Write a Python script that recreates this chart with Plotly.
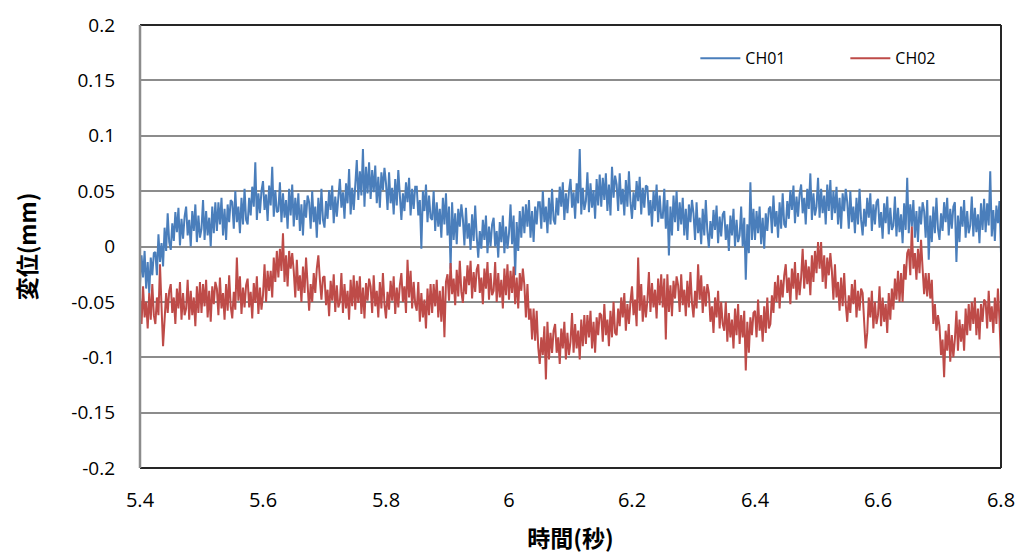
import numpy as np
import plotly.graph_objects as go

# Sampling grid (seconds)
t_start = 5.4
dt = 0.0025

# Displacement records (mm), one row per 0.025 s
ch01 = [
    -0.034, -0.008, -0.028, -0.004, -0.038, -0.014, -0.042, -0.010, -0.026, -0.006,
    -0.005, -0.026, 0.011, -0.014, 0.003, -0.018, 0.017, -0.004, 0.030, 0.004,
    -0.003, 0.021, 0.005, 0.031, 0.013, 0.035, 0.001, 0.025, 0.007, 0.027,
    0.036, 0.010, 0.024, 0.000, 0.032, 0.014, 0.038, 0.004, 0.028, 0.008,
    0.016, 0.042, 0.006, 0.032, 0.010, 0.026, 0.000, 0.036, 0.012, 0.040,
    0.014, 0.040, 0.020, 0.044, 0.010, 0.034, 0.006, 0.038, 0.022, 0.042,
    0.040, 0.016, 0.050, 0.022, 0.036, 0.012, 0.044, 0.020, 0.052, 0.024,
    0.020, 0.044, 0.028, 0.054, 0.036, 0.076, 0.024, 0.048, 0.030, 0.050,
    0.059, 0.033, 0.047, 0.023, 0.055, 0.037, 0.072, 0.027, 0.051, 0.031,
    0.032, 0.058, 0.022, 0.048, 0.026, 0.042, 0.016, 0.052, 0.028, 0.056,
    0.018, 0.044, 0.024, 0.048, 0.014, 0.038, 0.010, 0.042, 0.026, 0.046,
    0.040, 0.016, 0.050, 0.022, 0.036, 0.008, 0.044, 0.020, 0.052, 0.024,
    0.017, 0.041, 0.025, 0.051, 0.033, 0.055, 0.021, 0.045, 0.027, 0.047,
    0.061, 0.035, 0.049, 0.025, 0.057, 0.039, 0.070, 0.029, 0.053, 0.033,
    0.052, 0.078, 0.042, 0.068, 0.046, 0.088, 0.036, 0.072, 0.048, 0.076,
    0.043, 0.069, 0.049, 0.073, 0.039, 0.063, 0.035, 0.067, 0.051, 0.071,
    0.057, 0.033, 0.067, 0.039, 0.053, 0.029, 0.061, 0.037, 0.069, 0.041,
    0.024, 0.048, 0.032, 0.058, 0.040, 0.062, 0.028, 0.052, 0.034, 0.054,
    0.054, 0.028, 0.042, -0.002, 0.050, 0.032, 0.056, 0.022, 0.046, 0.026,
    0.024, 0.050, 0.014, 0.040, 0.018, 0.034, 0.008, 0.044, 0.020, 0.048,
    0.010, 0.036, -0.020, 0.040, 0.006, 0.030, 0.002, 0.034, 0.018, 0.038,
    0.025, 0.001, 0.035, 0.007, 0.021, -0.003, 0.029, 0.005, 0.037, 0.009,
    -0.010, 0.014, -0.002, 0.024, 0.006, 0.028, -0.006, 0.018, 0.000, 0.020,
    0.026, 0.000, 0.014, -0.010, 0.022, 0.004, 0.028, -0.006, 0.018, -0.002,
    0.012, 0.038, 0.002, 0.028, -0.026, 0.022, -0.004, 0.032, 0.008, 0.036,
    0.012, 0.038, 0.018, 0.042, 0.008, 0.032, 0.004, 0.036, 0.020, 0.040,
    0.040, 0.016, 0.050, 0.022, 0.036, 0.012, 0.044, 0.020, 0.052, 0.024,
    0.020, 0.044, 0.028, 0.054, 0.036, 0.058, 0.024, 0.048, 0.030, 0.050,
    0.061, 0.035, 0.049, 0.025, 0.057, 0.039, 0.088, 0.029, 0.053, 0.033,
    0.041, 0.067, 0.031, 0.057, 0.035, 0.051, 0.025, 0.061, 0.037, 0.065,
    0.036, 0.062, 0.042, 0.066, 0.032, 0.056, 0.028, 0.072, 0.044, 0.064,
    0.056, 0.032, 0.066, 0.038, 0.052, 0.028, 0.060, 0.036, 0.068, 0.040,
    0.025, 0.049, 0.033, 0.059, 0.041, 0.063, 0.029, 0.053, 0.035, 0.055,
    0.054, 0.028, 0.042, 0.018, 0.050, 0.032, 0.056, 0.022, 0.046, 0.026,
    0.026, 0.052, 0.016, 0.042, -0.008, 0.036, 0.010, 0.046, 0.022, 0.050,
    0.014, 0.040, 0.020, 0.044, 0.010, 0.034, 0.006, 0.038, 0.022, 0.042,
    0.030, 0.006, 0.040, 0.012, 0.026, 0.002, 0.034, 0.010, 0.042, 0.014,
    -0.001, 0.023, 0.007, 0.033, 0.015, 0.037, 0.003, 0.027, 0.009, 0.029,
    0.032, 0.006, 0.020, -0.004, 0.028, 0.010, 0.034, 0.000, 0.024, 0.004,
    0.010, 0.036, 0.000, 0.026, -0.030, 0.020, -0.006, 0.058, 0.006, 0.034,
    0.006, 0.032, 0.012, 0.036, 0.002, 0.026, -0.002, 0.030, 0.014, 0.034,
    0.036, 0.012, 0.046, 0.018, 0.032, 0.008, 0.040, 0.016, 0.048, 0.020,
    0.017, 0.041, 0.025, 0.051, 0.033, 0.055, 0.021, 0.045, 0.027, 0.047,
    0.056, 0.030, 0.044, 0.020, 0.052, 0.034, 0.066, 0.024, 0.048, 0.028,
    0.036, 0.062, 0.026, 0.052, 0.030, 0.046, 0.020, 0.056, 0.032, 0.060,
    0.024, 0.050, 0.030, 0.054, 0.020, 0.044, 0.016, 0.048, 0.032, 0.052,
    0.040, 0.016, 0.050, 0.022, 0.036, 0.012, 0.044, 0.020, 0.052, 0.024,
    0.010, 0.034, 0.018, 0.044, 0.026, 0.048, 0.014, 0.038, 0.020, 0.040,
    0.043, 0.017, 0.031, 0.007, 0.039, 0.021, 0.045, 0.011, 0.035, 0.015,
    0.019, 0.045, 0.009, 0.035, 0.013, 0.029, 0.003, 0.039, 0.015, 0.062,
    0.012, 0.038, 0.018, 0.042, 0.008, 0.032, 0.004, 0.036, 0.020, 0.040,
    0.032, 0.008, 0.042, -0.012, 0.028, 0.004, 0.036, 0.012, 0.044, 0.016,
    0.006, 0.030, 0.014, 0.040, 0.022, 0.044, 0.010, 0.034, 0.016, 0.036,
    0.040, -0.014, 0.028, 0.004, 0.036, 0.018, 0.042, 0.008, 0.032, 0.012,
    0.019, 0.045, 0.009, 0.035, 0.013, 0.029, 0.003, 0.039, 0.015, 0.043,
    0.013, 0.039, 0.019, 0.068, 0.009, 0.033, 0.005, 0.037, 0.021, 0.041,
    -0.006,
]

ch02 = [
    -0.046, -0.070, -0.036, -0.064, -0.050, -0.074, -0.042, -0.066, -0.034, -0.062,
    -0.070, -0.046, -0.062, -0.016, -0.054, -0.090, -0.066, -0.042, -0.060, -0.040,
    -0.034, -0.060, -0.046, -0.070, -0.038, -0.056, -0.032, -0.066, -0.042, -0.062,
    -0.056, -0.030, -0.066, -0.040, -0.062, -0.046, -0.072, -0.036, -0.060, -0.032,
    -0.060, -0.034, -0.054, -0.030, -0.064, -0.040, -0.068, -0.036, -0.052, -0.032,
    -0.038, -0.062, -0.028, -0.056, -0.042, -0.066, -0.034, -0.058, -0.026, -0.054,
    -0.065, -0.041, -0.057, -0.010, -0.049, -0.027, -0.061, -0.037, -0.055, -0.035,
    -0.029, -0.055, -0.041, -0.065, -0.033, -0.051, -0.027, -0.061, -0.037, -0.057,
    -0.044, -0.016, -0.050, -0.022, -0.040, -0.022, -0.046, -0.010, -0.032, -0.004,
    -0.028, -0.002, -0.022, 0.012, -0.032, -0.008, -0.036, -0.004, -0.020, -0.006,
    -0.022, -0.046, -0.012, -0.040, -0.026, -0.050, -0.018, -0.042, -0.010, -0.038,
    -0.058, -0.034, -0.050, -0.024, -0.042, -0.020, -0.008, -0.030, -0.048, -0.028,
    -0.027, -0.053, -0.039, -0.063, -0.031, -0.049, -0.025, -0.059, -0.035, -0.055,
    -0.050, -0.024, -0.060, -0.034, -0.056, -0.040, -0.066, -0.030, -0.054, -0.026,
    -0.057, -0.031, -0.051, -0.027, -0.061, -0.037, -0.065, -0.033, -0.049, -0.029,
    -0.036, -0.060, -0.026, -0.054, -0.040, -0.064, -0.032, -0.056, -0.024, -0.052,
    -0.065, -0.041, -0.057, -0.031, -0.049, -0.027, -0.061, -0.037, -0.055, -0.035,
    -0.024, -0.050, -0.036, -0.060, -0.012, -0.046, -0.022, -0.056, -0.032, -0.052,
    -0.058, -0.032, -0.068, -0.042, -0.064, -0.048, -0.074, -0.038, -0.062, -0.034,
    -0.060, -0.034, -0.054, -0.030, -0.064, -0.040, -0.068, -0.036, -0.082, -0.032,
    -0.025, -0.049, -0.015, -0.043, -0.029, -0.053, -0.021, -0.045, -0.013, -0.041,
    -0.051, -0.027, -0.043, -0.017, -0.035, -0.013, -0.047, -0.023, -0.041, -0.021,
    -0.016, -0.042, -0.028, -0.052, -0.020, -0.038, -0.014, -0.048, -0.024, -0.044,
    -0.040, -0.014, -0.050, -0.024, -0.046, -0.030, -0.056, -0.020, -0.044, -0.016,
    -0.048, -0.022, -0.042, -0.018, -0.052, -0.028, -0.056, -0.024, -0.040, -0.020,
    -0.035, -0.064, -0.034, -0.066, -0.056, -0.084, -0.056, -0.085, -0.058, -0.091,
    -0.106, -0.082, -0.098, -0.072, -0.120, -0.068, -0.102, -0.078, -0.096, -0.076,
    -0.070, -0.096, -0.082, -0.106, -0.074, -0.092, -0.068, -0.102, -0.078, -0.098,
    -0.086, -0.060, -0.096, -0.070, -0.092, -0.076, -0.102, -0.066, -0.090, -0.062,
    -0.088, -0.062, -0.082, -0.058, -0.092, -0.068, -0.096, -0.064, -0.080, -0.060,
    -0.062, -0.086, -0.052, -0.080, -0.066, -0.090, -0.058, -0.082, -0.050, -0.078,
    -0.080, -0.056, -0.072, -0.046, -0.064, -0.042, -0.076, -0.052, -0.070, -0.050,
    -0.036, -0.062, -0.048, -0.072, -0.010, -0.058, -0.034, -0.068, -0.044, -0.064,
    -0.049, -0.023, -0.059, -0.033, -0.055, -0.039, -0.065, -0.029, -0.053, -0.025,
    -0.055, -0.029, -0.084, -0.025, -0.059, -0.035, -0.063, -0.031, -0.047, -0.027,
    -0.035, -0.059, -0.025, -0.053, -0.039, -0.063, -0.031, -0.055, -0.023, -0.051,
    -0.064, -0.040, -0.056, -0.016, -0.048, -0.026, -0.060, -0.036, -0.054, -0.034,
    -0.042, -0.068, -0.054, -0.078, -0.046, -0.064, -0.040, -0.074, -0.050, -0.070,
    -0.076, -0.050, -0.086, -0.060, -0.082, -0.066, -0.092, -0.056, -0.080, -0.052,
    -0.088, -0.062, -0.082, -0.058, -0.112, -0.068, -0.096, -0.064, -0.080, -0.060,
    -0.058, -0.082, -0.048, -0.076, -0.062, -0.086, -0.054, -0.078, -0.046, -0.074,
    -0.070, -0.044, -0.060, -0.032, -0.050, -0.026, -0.056, -0.030, -0.046, -0.026,
    -0.016, -0.042, -0.028, -0.052, -0.020, -0.038, -0.014, -0.048, -0.024, -0.044,
    -0.028, -0.002, -0.038, -0.012, -0.034, -0.018, -0.044, -0.008, -0.032, -0.004,
    -0.024, 0.004, -0.020, 0.004, -0.032, -0.008, -0.038, -0.010, -0.026, -0.006,
    -0.022, -0.048, -0.016, -0.046, -0.032, -0.058, -0.028, -0.054, -0.024, -0.052,
    -0.068, -0.044, -0.060, -0.034, -0.052, -0.030, -0.064, -0.040, -0.058, -0.038,
    -0.042, -0.068, -0.092, -0.078, -0.046, -0.064, -0.040, -0.074, -0.050, -0.070,
    -0.062, -0.036, -0.072, -0.046, -0.068, -0.052, -0.078, -0.042, -0.066, -0.038,
    -0.057, -0.029, -0.048, -0.022, -0.050, -0.024, -0.050, -0.016, -0.030, -0.006,
    -0.002, -0.026, 0.018, -0.020, -0.006, -0.030, -0.002, -0.024, 0.006, -0.020,
    -0.043, -0.024, -0.045, -0.024, -0.047, -0.030, -0.070, -0.052, -0.076, -0.062,
    -0.072, -0.098, -0.084, -0.118, -0.076, -0.094, -0.070, -0.104, -0.080, -0.100,
    -0.084, -0.058, -0.094, -0.066, -0.086, -0.070, -0.094, -0.056, -0.080, -0.052,
    -0.076, -0.050, -0.070, -0.046, -0.080, -0.056, -0.084, -0.052, -0.068, -0.048,
    -0.050, -0.074, -0.040, -0.068, -0.054, -0.078, -0.046, -0.070, -0.038, -0.066,
    -0.104,
]

time = np.round(t_start + dt * np.arange(len(ch01)), 4)

x_ticks = [5.4, 5.6, 5.8, 6.0, 6.2, 6.4, 6.6, 6.8]
x_tick_text = ["5.4", "5.6", "5.8", "6", "6.2", "6.4", "6.6", "6.8"]
y_ticks = [0.2, 0.15, 0.1, 0.05, 0, -0.05, -0.1, -0.15, -0.2]
y_tick_text = ["0.2", "0.15", "0.1", "0.05", "0", "-0.05", "-0.1", "-0.15", "-0.2"]

BLUE = "#4a7ebb"
RED = "#be4b48"
GRID = "#8c8c8c"
FRAME = "#262626"
Y_TICK_FONT = dict(family="Open Sans, Noto Sans, sans-serif", size=19, color="#000000")
X_TICK_FONT = dict(family="Liberation Sans Narrow, Open Sans, sans-serif", size=20, color="#000000")
TITLE_FONT = dict(family="Noto Sans CJK JP, Noto Sans, sans-serif", size=23,
                  color="#000000", weight="bold")

fig = go.Figure()
fig.add_trace(go.Scatter(x=time, y=ch01, mode="lines", name="CH01",
                         line=dict(color=BLUE, width=2.0)))
fig.add_trace(go.Scatter(x=time, y=ch02, mode="lines", name="CH02",
                         line=dict(color=RED, width=2.0)))

# Dark frame on top, right and bottom of the plot area; grey left axis
fig.add_shape(type="line", xref="paper", yref="paper", x0=0, x1=1, y0=1, y1=1,
              line=dict(color=FRAME, width=2), layer="above")
fig.add_shape(type="line", xref="paper", yref="paper", x0=1, x1=1, y0=0, y1=1,
              line=dict(color=FRAME, width=2), layer="above")
fig.add_shape(type="line", xref="paper", yref="paper", x0=0, x1=1, y0=0, y1=0,
              line=dict(color=FRAME, width=2), layer="above")
fig.add_shape(type="line", xref="paper", yref="paper", x0=0, x1=0, y0=0, y1=1,
              line=dict(color=GRID, width=2.5), layer="above")

fig.update_layout(
    width=1027, height=559,
    margin=dict(l=140, r=20, t=22, b=90),
    paper_bgcolor="white", plot_bgcolor="white",
    showlegend=True,
    legend=dict(orientation="h", x=0.645, y=0.925, xanchor="left", yanchor="middle",
                bgcolor="rgba(0,0,0,0)",
                font=dict(family="Open Sans, sans-serif", size=16, color="#000000"),
                itemwidth=40, entrywidth=95, tracegroupgap=0),
    xaxis=dict(range=[5.4, 6.8], tickvals=x_ticks, ticktext=x_tick_text,
               showgrid=False, zeroline=False, showline=False, ticks="",
               tickfont=X_TICK_FONT, ticklabelstandoff=18,
               title=dict(text="時間(秒)", font=TITLE_FONT, standoff=18)),
    yaxis=dict(range=[-0.2, 0.2], tickvals=y_ticks, ticktext=y_tick_text,
               showgrid=True, gridcolor=GRID, gridwidth=1.5, zeroline=False,
               showline=False, ticks="", tickfont=Y_TICK_FONT, ticklabelstandoff=24,
               title=dict(text="変位(mm)", font=TITLE_FONT, standoff=28)),
)

fig.write_html("out.html")
